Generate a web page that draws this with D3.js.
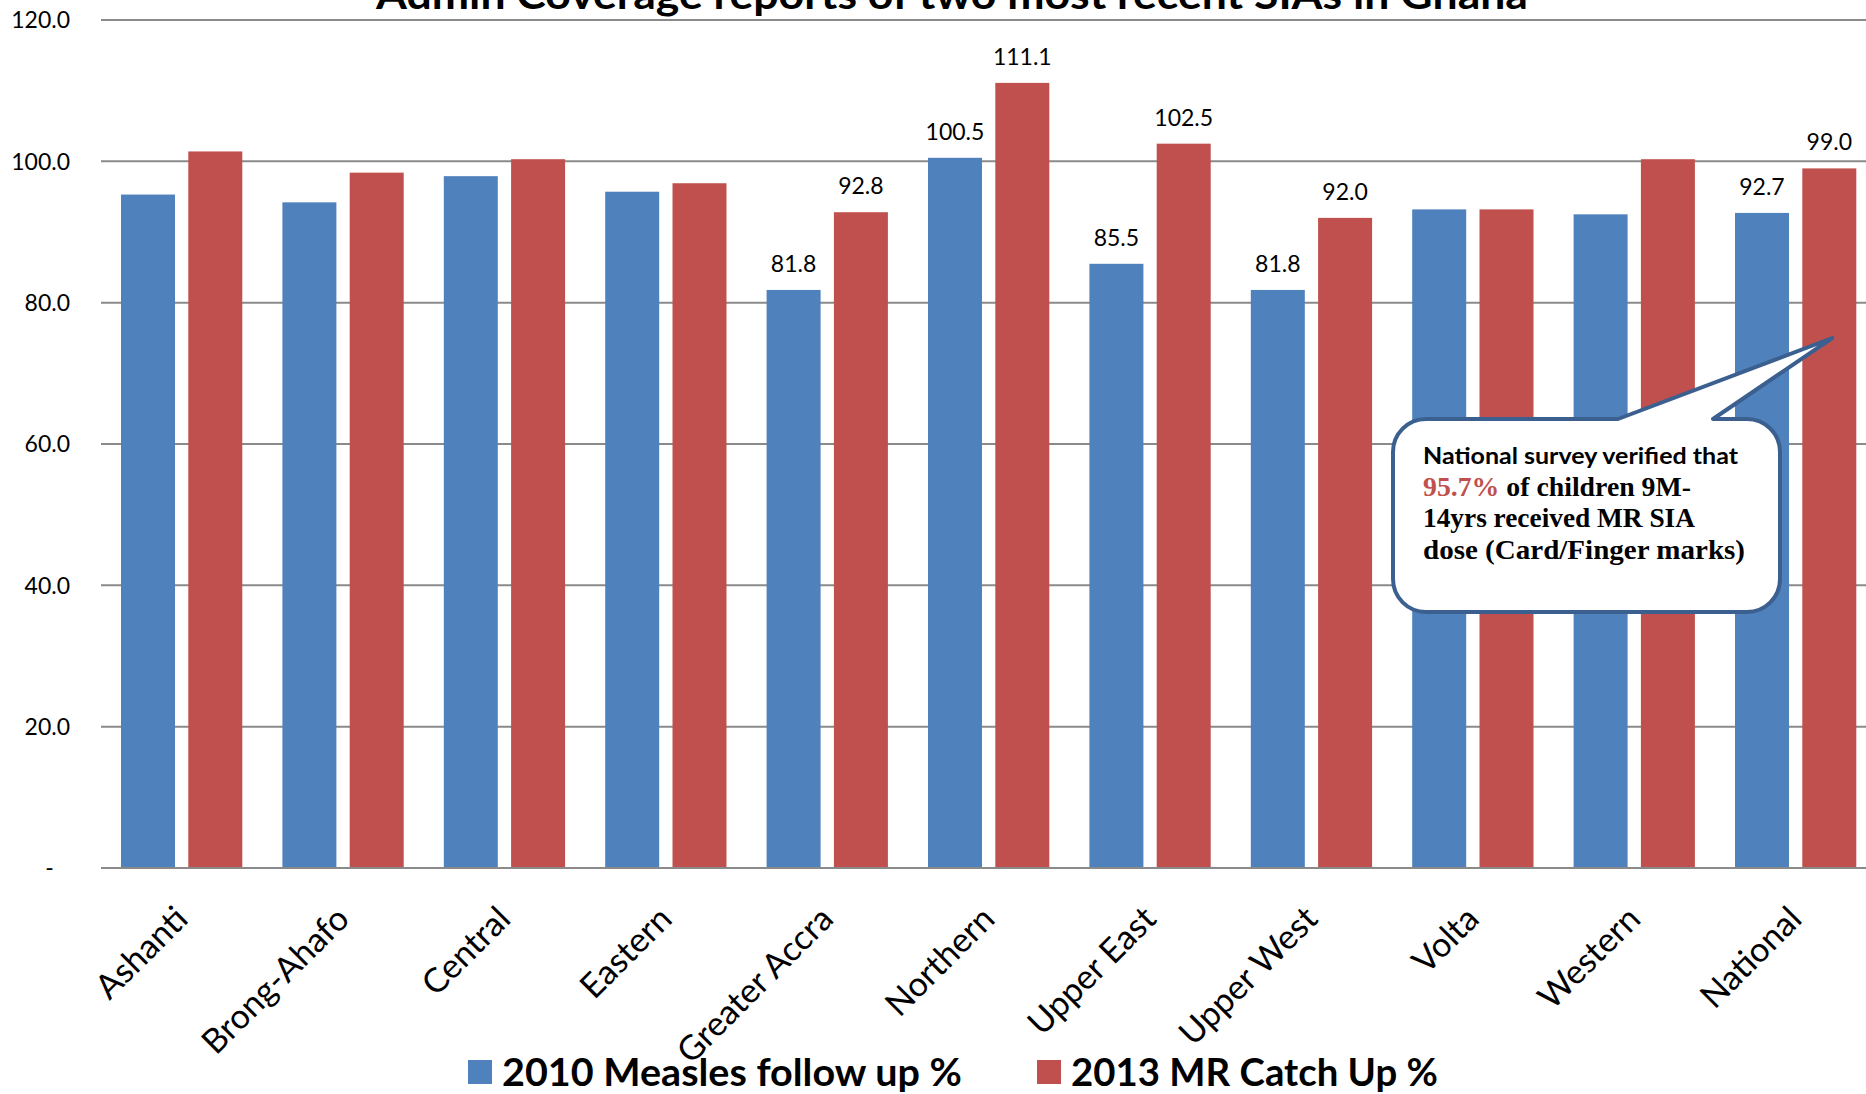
<!DOCTYPE html>
<html><head><meta charset="utf-8">
<script src="https://cdn.jsdelivr.net/npm/d3@7"></script>
<style>body{margin:0;background:#fff;overflow:hidden;} svg{display:block;}</style>
</head><body>
<svg id="chart" width="1866" height="1094"></svg>
<script>
// ---- data ----
const categories = ["Ashanti","Brong-Ahafo","Central","Eastern","Greater Accra","Northern","Upper East","Upper West","Volta","Western","National"];
const measles2010 = [95.3,94.2,97.9,95.7,81.8,100.5,85.5,81.8,93.2,92.5,92.7];
const mrCatchUp2013 = [101.4,98.4,100.3,96.9,92.8,111.1,102.5,92.0,93.2,100.3,99.0];
const seriesNames = ["2010 Measles follow up %","2013 MR Catch Up %"];
const seriesColors = ["#4f81bd","#c0504d"];
const labeledCategories = ["Greater Accra","Northern","Upper East","Upper West","National"];
const yTicks = [0,20,40,60,80,100,120];
const chartTitle = "Admin Coverage reports of two most recent SIAs in Ghana";
const calloutLine1 = "National survey verified that";
const calloutHighlight = "95.7%";
const calloutLine2 = " of children 9M-";
const calloutLine3 = "14yrs received MR SIA";
const calloutLine4 = "dose (Card/Finger marks)";
const calloutTarget = {category:"National", series:1, value:75};

// ---- layout ----
const svg = d3.select("#chart");
const axisY0 = 868, axisYTop = 20, plotLeft = 101, plotRight = 1876.4, W = 1866;
const y = d3.scaleLinear().domain([0,120]).range([axisY0, axisYTop]);
const x = d3.scaleBand().domain(categories).range([plotLeft, plotRight]).padding(0);
const xSub = d3.scaleBand().domain([0,1]).range([20, 141.3]).paddingInner(0.1976).paddingOuter(0);
const seriesData = [measles2010, mrCatchUp2013];

function fit(sel, w){
  sel.each(function(){
    const n = this.getComputedTextLength();
    if (Math.abs(n - w) > 1) d3.select(this).attr("textLength", w).attr("lengthAdjust","spacingAndGlyphs");
  });
}

// gridlines
svg.append("g").selectAll("line").data(yTicks).join("line")
  .attr("x1", plotLeft).attr("x2", W)
  .attr("y1", d => y(d)).attr("y2", d => y(d))
  .attr("stroke", "#8a8a8a").attr("stroke-width", 2);

// y tick labels
svg.append("g").selectAll("text").data(yTicks).join("text")
  .attr("x", 70).attr("y", d => y(d)).attr("dy","0.36em")
  .attr("text-anchor","end")
  .attr("font-family","Lato, 'Open Sans', sans-serif").attr("font-size",23)
  .attr("fill","#000")
  .text(d => d === 0 ? "-\u2007\u2009" : d.toFixed(1));

// bars
const barG = svg.append("g");
seriesData.forEach((vals, si) => {
  barG.append("g").selectAll("rect").data(vals).join("rect")
    .attr("x", (d,i) => x(categories[i]) + xSub(si))
    .attr("width", xSub.bandwidth())
    .attr("y", d => y(d))
    .attr("height", d => y(0) - y(d))
    .attr("fill", seriesColors[si]);
});

// axis baseline on top of bars
svg.append("line").attr("x1", plotLeft).attr("x2", W).attr("y1", y(0)).attr("y2", y(0))
  .attr("stroke","#8a8a8a").attr("stroke-width",2);

// data labels
seriesData.forEach((vals, si) => {
  svg.append("g").selectAll("text")
    .data(vals.map((v,i)=>({v, c:categories[i]})).filter(d => labeledCategories.includes(d.c)))
    .join("text")
    .attr("x", d => x(d.c) + xSub(si) + xSub.bandwidth()/2)
    .attr("y", d => y(d.v) - 18)
    .attr("text-anchor","middle")
    .attr("font-family","Lato, 'Open Sans', sans-serif").attr("font-size",23)
    .attr("fill","#000")
    .text(d => d.v.toFixed(1));
});

// category labels
svg.append("g").selectAll("text").data(categories).join("text")
  .attr("transform", d => `translate(${x(d) + x.bandwidth()/2 + 8},921) rotate(-45)`)
  .attr("text-anchor","end")
  .attr("font-family","Lato, 'Open Sans', sans-serif").attr("font-size",34)
  .attr("fill","#000")
  .text(d => d);

// title
svg.append("text").attr("x", 952).attr("y", 9).attr("text-anchor","middle")
  .attr("font-family","Lato, 'Open Sans', sans-serif").attr("font-weight","bold").attr("font-size",40)
  .attr("fill","#000").text(chartTitle).call(fit, 1152);

// legend
const legendX = [468, 1037], legendW = [460, 367];
seriesNames.forEach((name, i) => {
  svg.append("rect").attr("x", legendX[i]).attr("y", 1060).attr("width",24).attr("height",24).attr("fill", seriesColors[i]);
  svg.append("text").attr("x", legendX[i] + 34).attr("y", 1086)
    .attr("font-family","Lato, 'Open Sans', sans-serif").attr("font-weight","bold").attr("font-size",38)
    .attr("fill","#000").text(name).call(fit, legendW[i]);
});

// callout
const bx0 = 1393, bx1 = 1780, by0 = 419, by1 = 612, r = 33;
const tipX = x(calloutTarget.category) + xSub(calloutTarget.series) + xSub.bandwidth()/2 + 3;
const tipY = y(calloutTarget.value);
const p = d3.path();
p.moveTo(bx0 + r, by0);
p.lineTo(1618, by0);
p.lineTo(tipX, tipY);
p.lineTo(1713, by0);
p.lineTo(bx1 - r, by0);
p.arcTo(bx1, by0, bx1, by0 + r, r);
p.lineTo(bx1, by1 - r);
p.arcTo(bx1, by1, bx1 - r, by1, r);
p.lineTo(bx0 + r, by1);
p.arcTo(bx0, by1, bx0, by1 - r, r);
p.lineTo(bx0, by0 + r);
p.arcTo(bx0, by0, bx0 + r, by0, r);
p.closePath();
svg.append("path").attr("d", p.toString()).attr("fill","#fff")
  .attr("stroke","#3b6090").attr("stroke-width",4).attr("stroke-linejoin","round");

const tx = 1423;
svg.append("text").attr("x", tx).attr("y", 464)
  .attr("font-family","Lato, 'Open Sans', sans-serif").attr("font-weight","bold").attr("font-size",22)
  .attr("fill","#000").text(calloutLine1).call(fit, 315);
const serif = "'Liberation Serif', 'DejaVu Serif', serif";
const l2 = svg.append("text").attr("x", tx).attr("y", 496)
  .attr("font-family", serif).attr("font-weight","bold").attr("font-size",28).attr("fill","#000");
l2.append("tspan").attr("fill","#c0504d").text(calloutHighlight);
l2.append("tspan").text(calloutLine2);
l2.call(fit, 268);
svg.append("text").attr("x", tx).attr("y", 527)
  .attr("font-family", serif).attr("font-weight","bold").attr("font-size",28)
  .attr("fill","#000").text(calloutLine3).call(fit, 272);
svg.append("text").attr("x", tx).attr("y", 559)
  .attr("font-family", serif).attr("font-weight","bold").attr("font-size",28)
  .attr("fill","#000").text(calloutLine4).call(fit, 322);
</script>
</body></html>
